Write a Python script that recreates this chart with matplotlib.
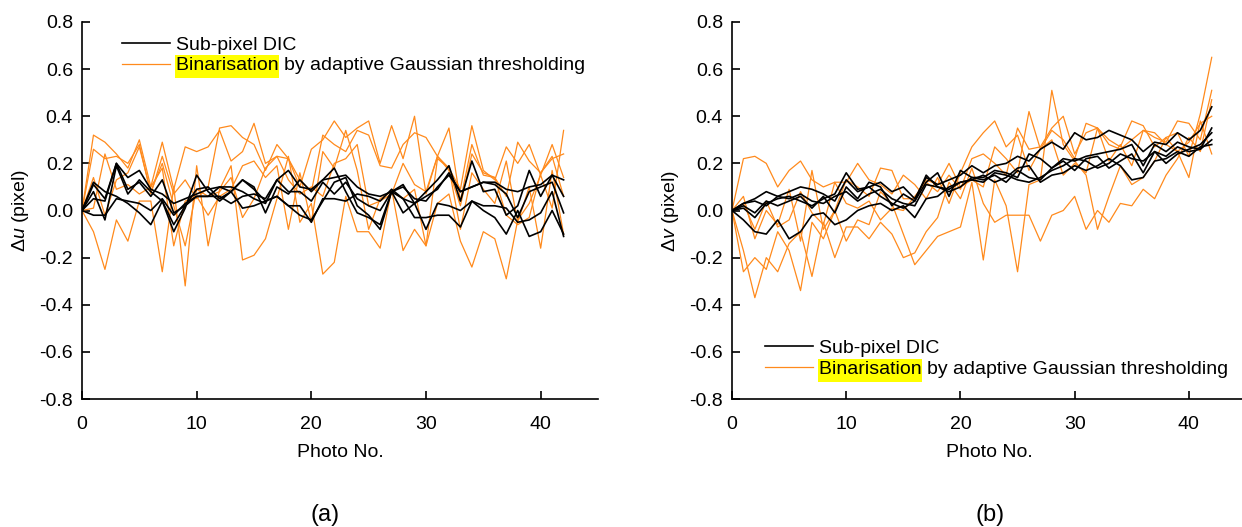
import numpy as np
import matplotlib
matplotlib.use('Agg')
import matplotlib.pyplot as plt
from matplotlib.lines import Line2D
from matplotlib.patches import Rectangle

plt.rcParams['font.family'] = ['Liberation Sans', 'DejaVu Sans']
plt.rcParams['mathtext.fontset'] = 'custom'
plt.rcParams['mathtext.rm'] = 'Liberation Sans'
plt.rcParams['mathtext.it'] = 'Liberation Sans:italic'

photo_no = list(range(43))

# ---- panel (a): delta u ----
u_dic = [
    [0, 0.11, 0.05, 0.20, 0.14, 0.17, 0.09, 0.07, 0.03, 0.05, 0.07, 0.09, 0.10, 0.10, 0.08, 0.05, 0.03, 0.13, 0.17, 0.10, 0.09, 0.13,
     0.14, 0.15, 0.10, 0.07, 0.06, 0.08, 0.10, 0.05, 0.04, 0.10, 0.15, 0.08, 0.10, 0.12, 0.12, 0.09, 0.08, 0.10, 0.11, 0.15, 0.13],
    [0, 0.08, -0.04, 0.19, 0.07, 0.13, 0.08, 0.04, -0.09, 0.01, 0.15, 0.08, 0.04, 0.08, 0.13, 0.10, -0.01, 0.10, 0.07, 0.13, 0.08, 0.13,
     0.18, 0.08, -0.01, -0.03, -0.06, 0.08, 0.11, 0.03, 0.08, 0.13, 0.19, 0.04, 0.21, 0.08, 0.09, -0.02, 0.02, 0.17, 0.06, 0.15, 0.06],
    [0, 0.05, 0.04, 0.20, 0.09, 0.12, 0.06, 0.13, -0.01, 0.02, 0.06, 0.06, 0.06, 0.03, 0.06, 0.07, 0.05, 0.13, 0.08, 0.08, 0.04, 0.12,
     0.07, 0.12, 0.05, 0.02, 0.00, 0.08, -0.01, 0.03, 0.06, 0.09, 0.16, 0.08, 0.10, 0.12, 0.11, 0.07, -0.03, 0.08, 0.10, 0.12, -0.01],
    [0, -0.02, -0.02, 0.05, 0.04, 0.03, 0.00, 0.05, -0.02, 0.03, 0.06, 0.06, 0.10, 0.08, 0.13, 0.09, 0.04, 0.06, 0.02, 0.02, -0.05, 0.05,
     0.05, 0.04, 0.07, 0.06, 0.04, 0.09, 0.05, -0.03, -0.03, -0.02, -0.02, -0.07, 0.04, 0.02, 0.02, 0.01, -0.05, -0.04, -0.01, 0.08, -0.11],
    [0, 0.12, 0.08, 0.06, 0.03, -0.01, -0.06, 0.04, -0.06, 0.02, 0.09, 0.10, 0.05, 0.08, 0.01, 0.02, 0.04, 0.06, 0.02, -0.02, -0.04, 0.04,
     0.12, 0.14, 0.02, -0.02, -0.08, 0.08, 0.05, 0.03, -0.08, 0.03, 0.02, 0.00, 0.04, 0.00, -0.03, -0.10, 0.00, -0.11, -0.09, 0.00, -0.10],
]
u_bin = [
    [0, 0.32, 0.29, 0.24, 0.18, 0.30, 0.10, 0.29, 0.09, 0.27, 0.25, 0.27, 0.34, 0.21, 0.25, 0.37, 0.20, 0.23, 0.22, 0.10, 0.26, 0.30,
     0.38, 0.31, 0.35, 0.38, 0.20, 0.36, 0.22, 0.40, 0.07, 0.23, 0.18, 0.09, 0.36, 0.17, 0.13, 0.27, 0.20, 0.28, 0.15, 0.28, 0.14],
    [0, 0.26, 0.22, 0.23, 0.20, 0.28, 0.07, 0.23, 0.07, 0.13, 0.05, 0.10, 0.35, 0.36, 0.31, 0.28, 0.17, 0.28, 0.22, 0.13, 0.08, 0.32,
     0.28, 0.25, 0.34, 0.32, 0.19, 0.18, 0.28, 0.33, 0.31, 0.23, 0.35, 0.04, 0.28, 0.15, 0.14, 0.06, 0.29, 0.21, 0.16, 0.22, 0.24],
    [0, 0.14, -0.02, 0.13, 0.16, 0.27, 0.08, 0.20, 0.02, -0.15, 0.09, 0.06, 0.08, 0.14, -0.03, 0.05, 0.18, 0.23, 0.13, 0.07, 0.10, 0.06,
     0.20, 0.22, 0.28, 0.02, 0.04, 0.07, 0.20, 0.11, 0.08, 0.23, 0.17, 0.02, 0.24, 0.16, 0.14, -0.02, -0.06, -0.03, 0.16, 0.23, 0.06],
    [0, 0.01, 0.24, 0.09, 0.11, 0.07, 0.10, 0.18, -0.15, 0.04, 0.06, -0.02, 0.06, 0.09, 0.19, 0.21, 0.14, 0.19, -0.08, 0.16, -0.05, 0.25,
     0.18, 0.34, 0.17, -0.08, 0.05, 0.08, 0.05, 0.09, -0.15, 0.22, 0.18, -0.08, 0.16, 0.09, 0.03, 0.21, -0.05, 0.10, -0.16, 0.17, -0.10],
    [0, -0.09, -0.25, -0.04, -0.13, 0.04, 0.04, -0.26, 0.10, -0.32, 0.19, -0.15, 0.09, 0.19, -0.21, -0.19, -0.12, 0.05, 0.23, -0.05, 0.03, -0.27,
     -0.22, 0.06, -0.09, -0.09, -0.16, 0.09, -0.17, -0.08, -0.15, 0.03, 0.07, -0.13, -0.24, -0.09, -0.12, -0.29, -0.04, 0.03, 0.15, 0.01, 0.34],
]

# ---- panel (b): delta v ----
v_dic = [
    [0, 0.01, -0.03, 0.03, 0.05, 0.06, 0.04, 0.02, 0.05, 0.07, 0.16, 0.09, 0.10, 0.12, 0.08, 0.10, 0.05, 0.14, 0.11, 0.13, 0.15, 0.19,
     0.16, 0.19, 0.20, 0.23, 0.21, 0.26, 0.29, 0.26, 0.33, 0.30, 0.31, 0.34, 0.32, 0.30, 0.25, 0.29, 0.28, 0.33, 0.30, 0.34, 0.44],
    [0, 0.03, 0.04, 0.02, 0.06, 0.08, 0.10, 0.09, 0.07, 0.04, 0.13, 0.08, 0.10, 0.06, 0.03, 0.01, 0.04, 0.15, 0.10, 0.08, 0.10, 0.14,
     0.14, 0.17, 0.16, 0.14, 0.24, 0.22, 0.18, 0.22, 0.21, 0.23, 0.24, 0.25, 0.26, 0.28, 0.19, 0.28, 0.25, 0.29, 0.27, 0.26, 0.35],
    [0, 0.02, -0.01, 0.04, 0.02, 0.04, 0.06, 0.01, 0.06, -0.01, 0.10, 0.05, 0.12, 0.10, 0.02, 0.07, 0.04, 0.12, 0.16, 0.06, 0.17, 0.14,
     0.13, 0.15, 0.12, 0.17, 0.14, 0.13, 0.18, 0.21, 0.17, 0.22, 0.23, 0.18, 0.21, 0.24, 0.16, 0.25, 0.20, 0.24, 0.26, 0.28, 0.33],
    [0, 0.03, 0.05, 0.08, 0.06, 0.05, 0.07, 0.04, 0.03, 0.06, 0.08, 0.04, 0.07, 0.09, 0.05, 0.03, 0.02, 0.11, 0.10, 0.09, 0.12, 0.13,
     0.12, 0.16, 0.15, 0.13, 0.12, 0.14, 0.17, 0.19, 0.22, 0.21, 0.18, 0.20, 0.24, 0.22, 0.21, 0.25, 0.23, 0.27, 0.25, 0.26, 0.30],
    [0, -0.04, -0.09, -0.10, -0.04, -0.12, -0.09, -0.02, -0.01, -0.06, -0.04, 0.00, 0.02, 0.03, 0.00, 0.02, -0.03, 0.05, 0.06, 0.10, 0.12, 0.13,
     0.15, 0.12, 0.14, 0.18, 0.19, 0.12, 0.15, 0.16, 0.19, 0.17, 0.19, 0.22, 0.19, 0.13, 0.14, 0.21, 0.22, 0.25, 0.23, 0.27, 0.28],
]
v_bin = [
    [0, 0.22, 0.23, 0.20, 0.10, 0.17, 0.21, 0.13, 0.10, 0.12, 0.12, 0.20, 0.13, 0.11, 0.07, 0.15, 0.11, 0.05, 0.14, 0.03, 0.16, 0.27,
     0.33, 0.38, 0.27, 0.32, 0.17, 0.26, 0.34, 0.30, 0.22, 0.37, 0.35, 0.28, 0.26, 0.30, 0.34, 0.31, 0.29, 0.38, 0.37, 0.30, 0.51],
    [0, 0.06, -0.12, 0.00, -0.06, 0.09, -0.13, 0.17, -0.08, 0.00, 0.13, 0.10, 0.06, 0.18, 0.17, 0.05, 0.05, 0.13, 0.11, 0.20, 0.10, 0.13,
     0.10, 0.27, 0.22, 0.16, 0.42, 0.26, 0.30, 0.15, 0.20, 0.16, 0.35, 0.21, 0.28, 0.19, 0.34, 0.33, 0.28, 0.25, 0.29, 0.37, 0.40],
    [0, 0.03, -0.08, 0.04, -0.07, -0.04, 0.08, -0.01, -0.06, 0.12, 0.03, 0.01, 0.04, -0.04, 0.01, 0.00, 0.06, 0.12, 0.08, 0.15, 0.09, 0.22,
     0.24, 0.20, 0.15, 0.35, 0.26, 0.27, 0.35, 0.40, 0.24, 0.33, 0.35, 0.30, 0.27, 0.38, 0.36, 0.27, 0.31, 0.33, 0.23, 0.41, 0.65],
    [0, -0.26, -0.20, -0.25, -0.09, -0.17, -0.34, -0.05, -0.12, 0.00, -0.13, -0.04, -0.06, 0.08, 0.03, -0.10, -0.23, -0.17, -0.11, -0.09, -0.07, 0.12,
     -0.21, 0.13, 0.02, -0.26, 0.11, 0.13, 0.51, 0.28, 0.21, 0.15, -0.08, 0.06, 0.19, 0.11, 0.14, 0.21, 0.31, 0.25, 0.14, 0.38, 0.24],
    [0, -0.17, -0.37, -0.20, -0.26, -0.14, -0.09, -0.28, -0.05, -0.20, -0.07, -0.07, -0.12, -0.05, -0.10, -0.20, -0.18, -0.09, -0.03, 0.12, 0.05, 0.18,
     0.03, -0.05, -0.02, -0.02, -0.02, -0.13, -0.02, 0.00, 0.06, -0.08, 0.00, -0.05, 0.03, 0.02, 0.09, 0.05, 0.15, 0.22, 0.31, 0.25, 0.47],
]

y_ticks = [-0.8, -0.6, -0.4, -0.2, 0.0, 0.2, 0.4, 0.6, 0.8]
x_ticks = [0, 10, 20, 30, 40]
label_dic = 'Sub-pixel DIC'
label_bin = 'Binarisation by adaptive Gaussian thresholding'
highlight_word = 'Binarisation'
orange = '#ff8a1c'
fs = 14

W, H = 1242, 527
fig = plt.figure(figsize=(W / 100, H / 100), dpi=100)


def px_axes(left, right, top, bottom):
    return fig.add_axes([left / W, 1 - bottom / H, (right - left) / W, (bottom - top) / H])


def setup(ax, ylabel):
    ax.set_xlim(0, 45)
    ax.set_ylim(-0.8, 0.8)
    ax.set_xticks(x_ticks)
    ax.set_yticks(y_ticks)
    ax.set_yticklabels(['%.1f' % t for t in y_ticks])
    for s in ['top', 'right']:
        ax.spines[s].set_visible(False)
    for s in ['left', 'bottom']:
        ax.spines[s].set_linewidth(1.2)
    ax.tick_params(direction='in', length=5.5, width=1.2, labelsize=fs)
    ax.tick_params(axis='x', pad=12.5)
    ax.tick_params(axis='y', pad=6.5)
    ax.set_xlabel('Photo No.', fontsize=fs, labelpad=8)
    ax.set_ylabel(ylabel, fontsize=fs, labelpad=6)


def draw_panel(ax, dic, binz):
    for s in binz:
        ax.plot(photo_no, s, color=orange, lw=0.9, zorder=2)
    for s in dic:
        ax.plot(photo_no, s, color='black', lw=1.2, zorder=3)


def add_legend(ax, anchor):
    handles = [Line2D([], [], color='black', lw=1.2), Line2D([], [], color=orange, lw=0.9)]
    leg = ax.legend(handles, [label_dic, label_bin], loc='upper left', bbox_to_anchor=anchor,
                    frameon=False, fontsize=fs, handlelength=2.47, handletextpad=0.3,
                    borderpad=0, borderaxespad=0, labelspacing=0.15)
    return leg


ax1 = px_axes(82, 598, 22, 399)
draw_panel(ax1, u_dic, u_bin)
setup(ax1, r'$\Delta u$ (pixel)')
leg1 = add_legend(ax1, (0.077, 0.962))

ax2 = px_axes(732, 1246, 22, 399)
draw_panel(ax2, v_dic, v_bin)
setup(ax2, r'$\Delta v$ (pixel)')
leg2 = add_legend(ax2, (0.064, 0.158))

fig.text(325 / W, 1 - 515 / H, '(a)', fontsize=17, ha='center', va='center')
fig.text(990 / W, 1 - 515 / H, '(b)', fontsize=17, ha='center', va='center')

# yellow highlight behind the first word of the second legend entry
fig.canvas.draw()
renderer = fig.canvas.get_renderer()
for ax, leg in [(ax1, leg1), (ax2, leg2)]:
    txt = leg.get_texts()[1]
    bb = txt.get_window_extent(renderer)
    tmp = fig.text(0, 0, highlight_word, fontsize=fs)
    wb = tmp.get_window_extent(renderer)
    tmp.remove()
    rect = Rectangle((bb.x0 - 1, bb.y0 - 4), wb.width + 2, bb.height + 6, transform=None,
                     facecolor='#ffff00', edgecolor='none', zorder=4, clip_on=False)
    ax.add_artist(rect)

fig.savefig('out.png', dpi=100)
